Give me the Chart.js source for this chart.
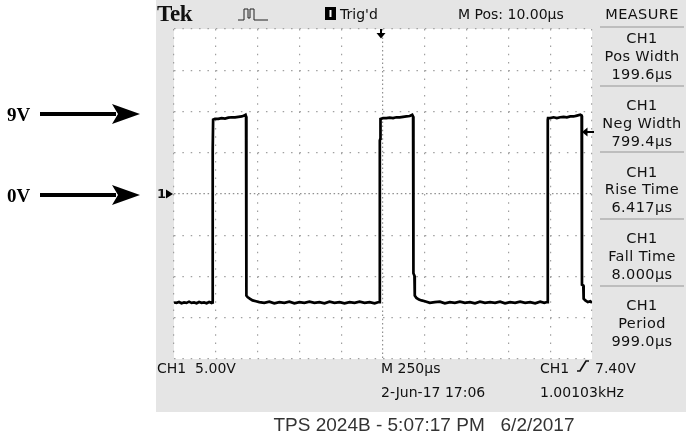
<!DOCTYPE html>
<html>
<head>
<meta charset="utf-8">
<script src="https://cdn.jsdelivr.net/npm/chart.js@4.4.1/dist/chart.umd.min.js"></script>
<style>
  body { margin: 0; background: #fff; }
  #wrap { position: relative; width: 686px; height: 436px; overflow: hidden; background: #fff; }
  #screen { position: absolute; left: 156px; top: 0; width: 530px; height: 412px; background: #e5e5e5; }
  canvas { position: absolute; left: 0; top: 0; }
  .t { position: absolute; font-family: "DejaVu Sans", sans-serif; font-size: 14px; color: #111; white-space: pre; line-height: 1; }
  .m { position: absolute; left: 598px; width: 88px; text-align: center; font-family: "DejaVu Sans", sans-serif; font-size: 14.5px; color: #111; line-height: 1; letter-spacing: 0.4px; white-space: pre; }
  .sep { position: absolute; left: 600px; width: 84px; height: 2px; background: #bdbdbd; }
  .lbl { position: absolute; font-family: "Liberation Serif", serif; font-weight: bold; font-size: 19px; color: #000; line-height: 1; }
  svg { position: absolute; left: 0; top: 0; }
</style>
</head>
<body>
<div id="wrap">
  <div id="screen"></div>
  <canvas id="c" width="686" height="436"></canvas>
  <div id="texts"></div>
  <svg width="686" height="436">
    <!-- callout arrows -->
    <rect x="40" y="112" width="76" height="4" fill="#000"/>
    <polygon points="140,114 112,104 118,114 112,124" fill="#000"/>
    <rect x="40" y="193" width="76" height="4" fill="#000"/>
    <polygon points="140,195 112,185 118,195 112,205" fill="#000"/>
    <!-- ground marker -->
    <polygon points="173,194 166,189.5 166,198.5" fill="#000"/>
    <!-- trigger position -->
    <rect x="380" y="29" width="2" height="5" fill="#000"/>
    <polygon points="381,38.5 376.5,33 385.5,33" fill="#000"/>
    <!-- trigger level -->
    <rect x="586" y="131" width="8" height="2" fill="#000"/>
    <polygon points="582,132 587.5,127.5 587.5,136.5" fill="#000"/>
    <!-- acquisition icon -->
    <polyline points="238,20 244,20 244,9 248,9 248,18 250,18 250,9 254,9 254,20 268,20" fill="none" stroke="#222" stroke-width="1"/>
    <!-- trig'd box -->
    <rect x="325" y="7" width="11" height="13" fill="#000"/>
    <rect x="329.5" y="10" width="2" height="7" fill="#fff"/>
    <!-- rising edge symbol -->
    <polyline points="577,371 580,371 586,361 589,361" fill="none" stroke="#111" stroke-width="1.7"/>
  </svg>
</div>
<script>
// CH1 trace: time from left graticule edge (us), volts
const timeUs = [
  0, 15, 30, 45, 60, 75, 90, 105, 120, 135, 150, 165, 180, 195, 210, 225,
  229, 230, 233, 234,
  245, 265, 285, 305, 325, 345, 365, 385, 405, 420, 428, 431,
  433, 440, 455, 470, 490,
  510, 540, 570, 600, 630, 660, 690, 720, 750, 780, 810, 840, 870, 900, 930, 960, 990, 1020, 1050, 1080, 1110, 1140, 1170, 1200, 1225,
  1230, 1231, 1234, 1235,
  1250, 1270, 1290, 1310, 1330, 1350, 1370, 1390, 1410, 1425, 1430,
  1432, 1438, 1440, 1450, 1465, 1480, 1500,
  1530, 1560, 1590, 1620, 1650, 1680, 1710, 1740, 1770, 1800, 1830, 1860, 1890, 1920, 1950, 1980, 2010, 2040, 2070, 2100, 2130, 2160, 2190, 2215, 2232,
  2235, 2236, 2237,
  2250, 2270, 2290, 2310, 2330, 2350, 2370, 2390, 2410, 2430, 2438,
  2440, 2448, 2450, 2460, 2475, 2490, 2500
];
const ch1Volts = [
  -13.15, -13.2, -13.1, -13.25, -13.15, -13.2, -13.05, -13.2, -13.15, -13.25, -13.1, -13.2, -13.15, -13.25, -13.1, -13.2,
  -13.15, 5.0, 5.3, 9.0,
  9.1, 9.1, 9.2, 9.15, 9.25, 9.3, 9.3, 9.35, 9.4, 9.5, 9.6, 9.4,
  -12.3, -12.5, -12.7, -12.9, -13.0,
  -13.1, -13.2, -13.05, -13.25, -13.1, -13.2, -13.05, -13.25, -13.1, -13.2, -13.05, -13.2, -13.1, -13.25, -13.05, -13.2, -13.1, -13.25, -13.1, -13.2, -13.05, -13.2, -13.1, -13.25, -13.1,
  -13.1, 6.5, 6.7, 9.1,
  9.2, 9.2, 9.25, 9.2, 9.3, 9.3, 9.35, 9.4, 9.45, 9.6, 9.4,
  -9.6, -9.9, -12.3, -12.6, -12.8, -12.9, -13.0,
  -13.2, -13.1, -13.05, -13.25, -13.1, -13.2, -13.05, -13.2, -13.1, -13.25, -13.05, -13.2, -13.1, -13.2, -13.05, -13.25, -13.1, -13.2, -13.05, -13.2, -13.1, -13.25, -13.05, -13.2, -13.1,
  -13.1, 9.0, 9.2,
  9.2, 9.3, 9.2, 9.3, 9.35, 9.3, 9.4, 9.4, 9.5, 9.6, 9.5,
  -11.0, -11.1, -12.7, -12.9, -13.1, -13.0, -13.2
];

// screen readouts
const topBar = [["Tek", 157, 6], ["Trig'd", 340, 7], ["M Pos: 10.00µs", 458, 7]];
const bottomBar = [["CH1  5.00V", 157, 361], ["M 250µs", 381, 361], ["2-Jun-17 17:06", 381, 385], ["CH1", 540, 361], ["7.40V", 595, 361], ["1.00103kHz", 540, 385]];
const measureNames = ["Pos Width", "Neg Width", "Rise Time", "Fall Time", "Period"];
const measureValues = ["199.6µs", "799.4µs", "6.417µs", "8.000µs", "999.0µs"];

const box = document.getElementById('texts');
function addText(cls, txt, x, y, extra) {
  const d = document.createElement('div');
  d.className = cls;
  d.textContent = txt;
  if (x !== null) d.style.left = x + 'px';
  d.style.top = y + 'px';
  if (extra) Object.assign(d.style, extra);
  box.appendChild(d);
}
topBar.forEach(([s, x, y]) => {
  if (s === 'Tek') addText('t', s, x, y - 4, {fontFamily: '"Liberation Serif", serif', fontWeight: 'bold', fontSize: '23px', letterSpacing: '-0.3px'});
  else addText('t', s, x, y);
});
bottomBar.forEach(([s, x, y]) => addText('t', s, x, y));
addText('m', 'MEASURE', null, 7);
addText('sep', '', null, 26);
measureNames.forEach((n, i) => {
  const y0 = 31 + i * 66.8;
  addText('m', 'CH1', null, y0);
  addText('m', n, null, y0 + 17.8);
  addText('m', measureValues[i], null, y0 + 35.8);
  if (i < 4) addText('sep', '', null, y0 + 53.5);
});
addText('t', '1', 157, 187, {fontSize: '13px', fontWeight: 'bold'});
addText('lbl', '9V', 7, 105);
addText('lbl', '0V', 7, 186);
addText('t', 'TPS 2024B - 5:07:17 PM   6/2/2017', 74, 415, {width: '700px', textAlign: 'center', fontFamily: '"Liberation Sans", sans-serif', fontSize: '19px', color: '#333'});

const screenBg = {
  id: 'screenBg',
  beforeDraw(chart) {
    const {ctx, chartArea: a} = chart;
    ctx.save();
    ctx.fillStyle = '#ffffff';
    ctx.fillRect(a.left, a.top, a.right - a.left, a.bottom - a.top);
    ctx.restore();
  }
};

const xDash = ctx => ctx.index === 5 ? [1.5, 2.7] : [1.5, 6.75];
const yDash = ctx => ctx.index === 4 ? [1.5, 2.7] : [1.5, 6.86];

new Chart(document.getElementById('c'), {
  type: 'line',
  data: {
    datasets: [{
      label: 'CH1',
      data: timeUs.map((t, i) => ({x: t, y: ch1Volts[i]})),
      borderColor: '#000',
      borderWidth: 2.7,
      pointRadius: 0,
      tension: 0,
      borderJoinStyle: 'miter'
    }]
  },
  options: {
    responsive: false,
    animation: false,
    layout: {padding: {left: 174, top: 29, right: 94, bottom: 77}},
    plugins: {legend: {display: false}, tooltip: {enabled: false}},
    scales: {
      x: {
        type: 'linear', min: 0, max: 2500,
        ticks: {display: false, stepSize: 250},
        grid: {color: ctx => ctx.index === 5 ? '#909090' : '#a0a0a0', lineWidth: 1.2, drawTicks: false, borderDash: xDash},
        border: {display: false, dash: xDash}
      },
      y: {
        type: 'linear', min: -20, max: 20,
        ticks: {display: false, stepSize: 5},
        grid: {color: ctx => ctx.index === 4 ? '#909090' : '#a0a0a0', lineWidth: 1.2, drawTicks: false, borderDash: yDash},
        border: {display: false, dash: yDash}
      }
    }
  },
  plugins: [screenBg]
});
</script>
</body>
</html>
